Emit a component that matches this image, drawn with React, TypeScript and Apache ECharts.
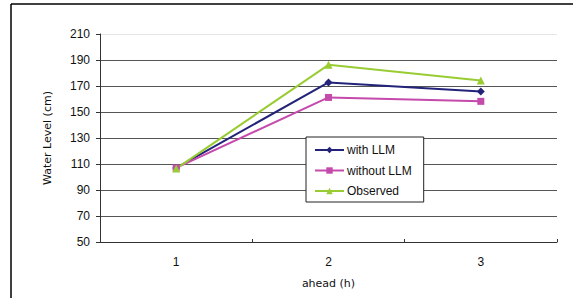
import React, { useEffect, useRef } from "react";
import * as echarts from "echarts";

const categories = ["1", "2", "3"];
const withLLM = [107, 172.7, 165.8];
const withoutLLM = [107, 161.2, 158.2];
const observed = [106.5, 186.3, 174.3];
const seriesNames = ["with LLM", "without LLM", "Observed"];

export default function App() {
  const ref = useRef<HTMLDivElement>(null);
  useEffect(() => {
    if (!ref.current) return;
    const chart = echarts.init(ref.current, null, { renderer: "svg" });
    const font = "Liberation Sans, Arial, sans-serif";
    const titleFont = "DejaVu Sans, sans-serif";
    const gridColors = ["#555", "#555", "#555", "#555", "#555", "#555", "#555", "#555", "#e6e6e6"];
    chart.setOption({
      animation: false,
      backgroundColor: "#fff",
      textStyle: { fontFamily: font },
      grid: { left: 100, right: 16, top: 34, bottom: 56 },
      graphic: [
        { type: "line", shape: { x1: 11, y1: 4, x2: 573, y2: 4 }, style: { stroke: "#000", lineWidth: 1.5 } },
        { type: "line", shape: { x1: 11, y1: 4, x2: 11, y2: 298 }, style: { stroke: "#000", lineWidth: 1.5 } },
      ],
      legend: {
        orient: "vertical",
        left: 306,
        top: 137,
        width: 120,
        data: seriesNames,
        backgroundColor: "#fff",
        borderColor: "#222",
        borderWidth: 1,
        padding: [7, 12, 5, 8],
        itemGap: 8.5,
        itemWidth: 29,
        itemHeight: 8,
        textStyle: { fontSize: 12, color: "#111", fontFamily: font, padding: [0, 0, 0, -2] },
        z: 10,
      },
      xAxis: {
        type: "category",
        data: categories,
        boundaryGap: true,
        name: "ahead (h)",
        nameLocation: "middle",
        nameGap: 36,
        nameTextStyle: { fontSize: 11, color: "#111", fontFamily: titleFont },
        axisLine: { lineStyle: { color: "#333", width: 1 } },
        axisTick: { show: true, inside: true, length: 3, lineStyle: { color: "#333" } },
        axisLabel: { fontSize: 12, color: "#111", margin: 14, fontFamily: font },
      },
      yAxis: {
        type: "value",
        min: 50,
        max: 210,
        interval: 20,
        name: "Water Level (cm)",
        nameLocation: "middle",
        nameGap: 47,
        nameTextStyle: { fontSize: 11, color: "#111", fontFamily: titleFont },
        axisLine: { show: true, lineStyle: { color: "#333", width: 1 } },
        axisTick: { show: true, length: 4, lineStyle: { color: "#333" } },
        axisLabel: { fontSize: 12, color: "#111", margin: 10, fontFamily: font },
        splitLine: { show: true, lineStyle: { color: gridColors, width: 1 } },
      },
      series: [
        {
          name: seriesNames[0],
          type: "line",
          data: withLLM,
          symbol: "diamond",
          symbolSize: 8,
          itemStyle: { color: "#23237a" },
          lineStyle: { color: "#23237a", width: 2 },
        },
        {
          name: seriesNames[1],
          type: "line",
          data: withoutLLM,
          symbol: "rect",
          symbolSize: 7,
          itemStyle: { color: "#c44aac" },
          lineStyle: { color: "#c44aac", width: 2 },
        },
        {
          name: seriesNames[2],
          type: "line",
          data: observed,
          symbol: "triangle",
          symbolSize: 8,
          itemStyle: { color: "#99cc33" },
          lineStyle: { color: "#99cc33", width: 2 },
        },
      ],
    });
    return () => chart.dispose();
  }, []);
  return <div ref={ref} style={{ position: "fixed", left: 0, top: 0, width: 573, height: 298 }} />;
}
